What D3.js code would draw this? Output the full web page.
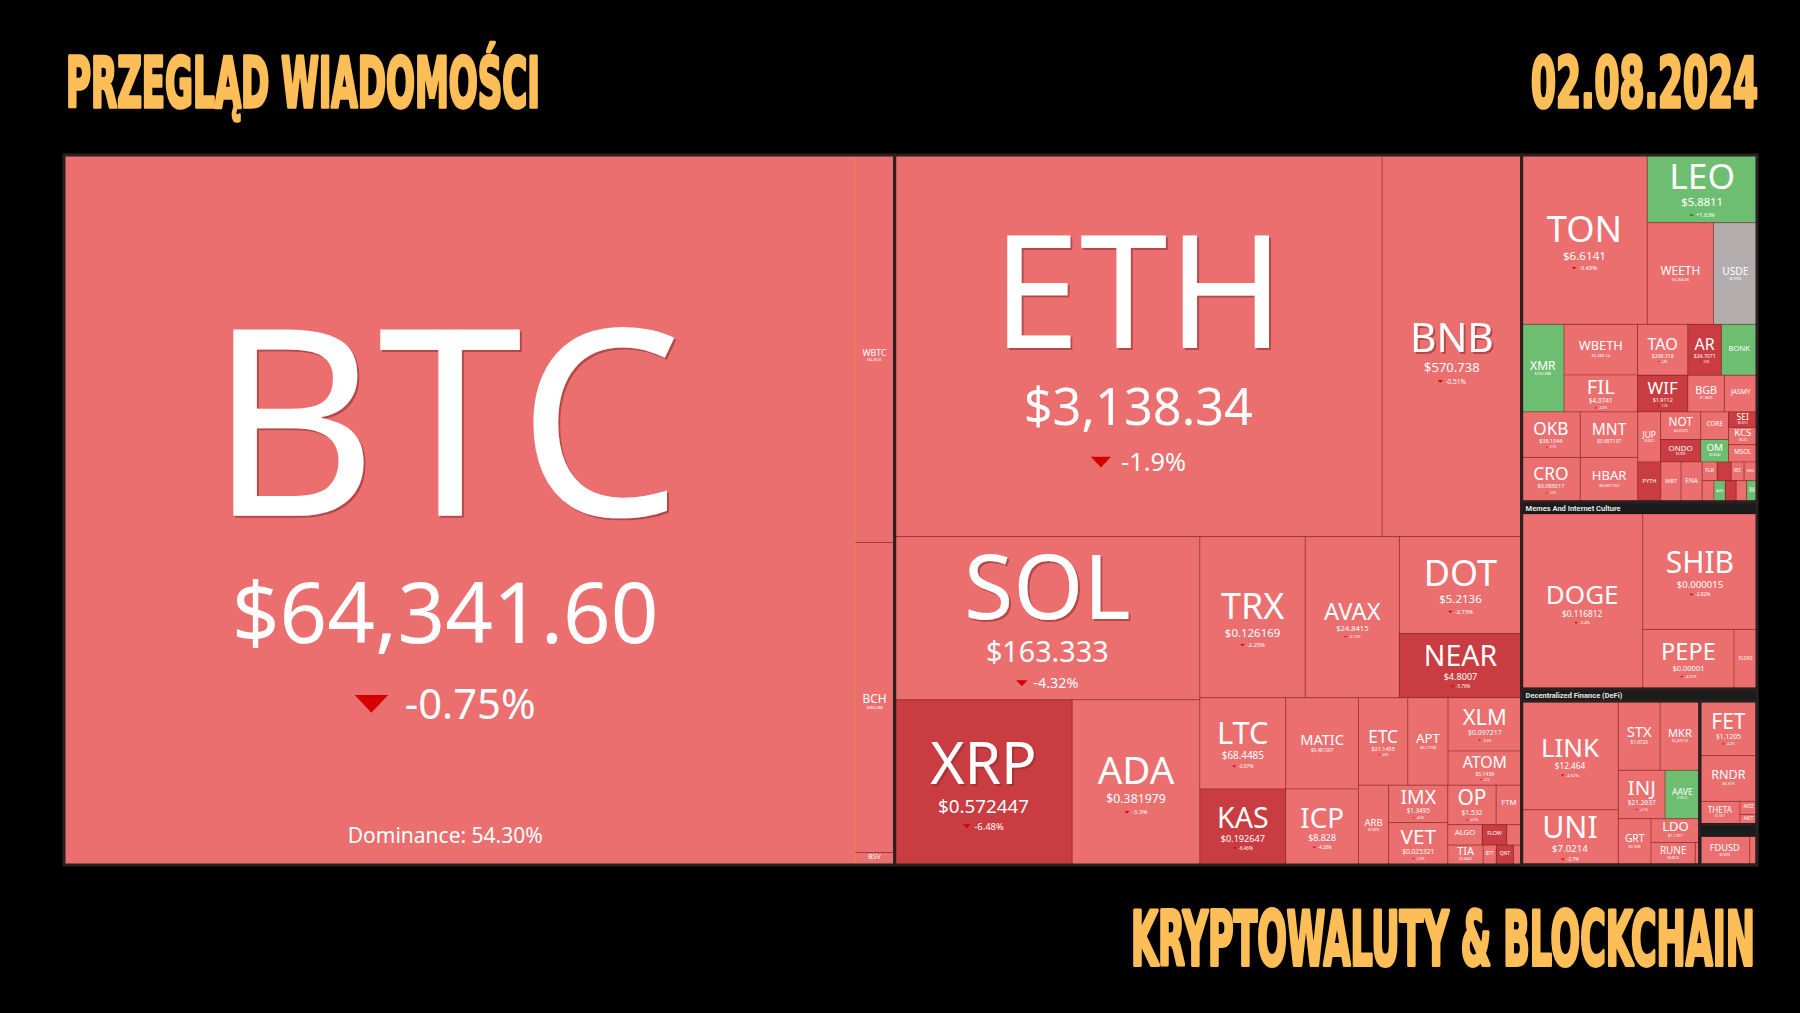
<!DOCTYPE html>
<html>
<head>
<meta charset="utf-8">
<script src="https://cdn.jsdelivr.net/npm/d3@7"></script>
<style>
  body { margin: 0; background: #000; }
  svg { display: block; }
</style>
</head>
<body>
<svg id="chart" width="1800" height="1013"></svg>
<script>
// Heatmap values (weights = tile area, relative)
const symbols = [
  "BTC","WBTC","BCH","BSV",
  "ETH","BNB","SOL","XRP","ADA","TRX","AVAX","DOT","NEAR","LTC","MATIC","KAS","ICP",
  "ETC","APT","XLM","ATOM","ARB","IMX","VET","OP","FTM","ALGO","FLOW","EGLD","TIA","BTT","QNT","SAND",
  "TON","LEO","WEETH","USDE","XMR","WBETH","FIL","TAO","AR","BONK","WIF","BGB","JASMY",
  "OKB","MNT","CRO","HBAR","JUP","NOT","ONDO","CORE","OM","SEI","KCS","MSOL","PYTH","WBT","ENA",
  "FLR","BEAM","XEC","NEO","GALA","AXS","STRK","EOS","W",
  "DOGE","SHIB","PEPE","FLOKI",
  "LINK","UNI","STX","MKR","INJ","AAVE","GRT","LDO","RUNE","CRV",
  "FET","RNDR","THETA","AIOZ","AKT",
  "FDUSD","TUSD"
];
const prices = [
  "$64,341.60","$64,260.30","$360.288","$45.12",
  "$3,138.34","$570.738","$163.333","$0.572447","$0.381979","$0.126169","$24.8415","$5.2136","$4.8007","$68.4485","$0.481097","$0.192647","$8.828",
  "$21.1455","$6.7198","$0.097217","$5.1439","$0.5876","$1.3495","$0.025321","$1.532","$0.4118","$0.1356","$0.5923","$31.52","$5.0442","$0.0000009","$63.88","$0.2741",
  "$6.6141","$5.8811","$3,268.06","$0.9996","$163.088","$3,280.14","$4.0741","$299.318","$24.7071","$0.0000214","$1.9112","$1.0826","$0.02297",
  "$38.1046","$0.687137","$0.085017","$0.061192","$0.8412","$0.0129","$0.7895","$1.2066","$0.9542","$0.3312","$9.23","$191.45","$0.3014","$16.93","$0.3551",
  "$0.0166","$0.0158","$0.0000253","$9.87","$0.0213","$5.12","$0.4376","$0.5012","$0.2687",
  "$0.116812","$0.000015","$0.00001","$0.0001478",
  "$12.464","$7.0214","$1.6720","$2,470.10","$21.2637","$103.21","$0.1636","$1.1251","$3.6622","$0.2687",
  "$1.1205","$6.319","$1.1017","$0.5123","$2.7512",
  "$0.9993","$0.9981"
];
const changes = [
  -0.75,-0.8,-2.55,-3.1,
  -1.9,-0.51,-4.32,-6.48,-3.3,-2.25,-3.13,-2.73,-5.76,-2.97,-3.63,-6.46,-4.28,
  -4.6,-3.8,-3.3,-4.1,-4.2,-4.5,-3.9,-4.9,-4.6,-3.7,-6.1,-3.2,-4.4,-3.0,-5.8,-4.0,
  -3.43,1.63,-1.86,0.01,1.2,-1.88,-4.3,-4.8,-6.9,2.1,-7.2,-2.4,-4.5,
  -3.7,-4.6,-3.5,-3.2,-4.4,-4.7,-7.4,-3.9,3.6,-6.4,-2.1,-4.0,-6.3,-3.4,-4.1,
  -3.9,-6.8,-4.2,-3.8,-4.5,1.2,-6.0,-3.6,0.9,
  -3.4,-2.92,-4.07,-4.5,
  -4.52,-3.7,-4.0,-3.4,-4.1,1.5,-3.8,-4.8,-4.5,-3.5,
  -4.2,-4.8,-3.9,-4.1,-3.8,
  -0.3,-0.4
];
const weights = [
  5587,155,124,5,
  1852,530,496,292,210,169,151,118,78,78,66,65,55,
  43,35,39,25,24,22,25,19,10,7,5,3,7,2.6,3.4,1.6,
  212,74,67,44,37,37,27,25.5,17,18,18.4,13.3,11.9,
  26.6,26.1,26,25.5,11.3,11.1,9,7.6,6.2,4.4,4.9,4.9,9.2,8,8.4,
  2.8,2.6,2.4,2.4,2.5,2.4,2.3,2.2,2.2,
  211,131,54,13.6,
  104.5,53,28.7,27.3,22.5,16.7,15,11.5,9.9,1,
  31,26,9.2,2.2,1.7,
  14,2
];
const dominance = "Dominance: 54.30%";

// how sectors nest and split (h = side by side, v = stacked)
function G(dir, opts, ...kids) {
  return Object.assign({dir, children: kids.map(k => typeof k === "string" ? {sym: k} : k)}, opts);
}
const H = (...k) => G("h", {}, ...k);
const V = (...k) => G("v", {}, ...k);

const tree = H(
  G("h", {border: true}, "BTC", G("v", {accent: true}, "WBTC", "BCH", "BSV")),
  G("v", {border: true},
    H("ETH", "BNB"),
    H(
      V("SOL", H("XRP", "ADA")),
      V(
        H("TRX", "AVAX", V("DOT", "NEAR")),
        H(
          V(H("LTC", "MATIC"), H("KAS", "ICP")),
          V(
            H("ETC", "APT", V("XLM", "ATOM")),
            H("ARB", V("IMX", "VET"),
              V(H("OP", "FTM"), H("ALGO", "FLOW", "EGLD"), H("TIA", "BTT", "QNT", "SAND")))
          )
        )
      )
    )
  ),
  V(
    G("v", {border: true},
      H("TON", V("LEO", H("WEETH", "USDE"))),
      H("XMR", V("WBETH", "FIL"), V(H("TAO", "AR", "BONK"), H("WIF", "BGB", "JASMY"))),
      H(V(H("OKB", "MNT"), H("CRO", "HBAR")),
        V(H("JUP", V("NOT", "ONDO"), V("CORE", "OM"), V("SEI", "KCS", "MSOL")),
          H("PYTH", "WBT", "ENA", V(H("FLR", "BEAM", "XEC", "NEO"), H("GALA", "AXS", "STRK", "EOS", "W")))))
    ),
    G("h", {border: true, title: "Memes And Internet Culture", extra: 29},
      "DOGE", V("SHIB", H("PEPE", "FLOKI"))),
    G("h", {border: true, title: "Decentralized Finance (DeFi)", extra: 29},
      G("h", {border: true},
        V("LINK", "UNI"),
        V(H("STX", "MKR"), H("INJ", "AAVE"), H("GRT", V("LDO", H("RUNE", "CRV"))))),
      V(G("v", {border: true}, "FET", "RNDR", H("THETA", V("AIOZ", "AKT"))),
        G("h", {border: true, title: "", extra: 7}, "FDUSD", "TUSD"))
    )
  )
);

const svg = d3.select("#chart");
const idx = new Map(symbols.map((s, i) => [s, i]));

const color = d3.scaleThreshold()
  .domain([-5, -0.2, 0.2])
  .range(["#c93c41", "#eb6f6f", "#b3adad", "#6ebe72"]);

const origin = [64, 155];
// header rows take area: the group's own "extra" weight
const root = d3.hierarchy(tree)
  .sum(d => d.sym ? weights[idx.get(d.sym)] : (d.extra || 0));

function tile(node, x0, y0, x1, y1) {
  const v = node.value;
  node.value = d3.sum(node.children, c => c.value);
  (node.data.dir === "v" ? d3.treemapSlice : d3.treemapDice)(node, x0, y0, x1, y1);
  node.value = v;
}

d3.treemap()
  .size([1693, 710])
  .tile(tile)
  .paddingTop(d => d.data.title !== undefined ? 12 : 0)(root);

// text measuring
const ctx = document.createElement("canvas").getContext("2d");
function em(text) {
  ctx.font = "400 100px 'Noto Sans'";
  return ctx.measureText(text).width / 100;
}

const defs = svg.append("defs");
defs.append("filter").attr("id", "ts")
  .attr("x", "-10%").attr("y", "-10%").attr("width", "130%").attr("height", "130%")
  .append("feDropShadow")
  .attr("dx", 2).attr("dy", 2).attr("stdDeviation", 0.6)
  .attr("flood-color", "#8a2a2a").attr("flood-opacity", 0.55);

const map = svg.append("g").attr("transform", `translate(${origin[0]},${origin[1]})`);

const leaves = map.selectAll("g.leaf")
  .data(root.leaves())
  .join("g")
  .attr("class", "leaf");

leaves.append("rect")
  .attr("x", d => d.x0)
  .attr("y", d => d.y0)
  .attr("width", d => d.x1 - d.x0)
  .attr("height", d => d.y1 - d.y0)
  .attr("fill", d => color(changes[idx.get(d.data.sym)]))
  .attr("stroke", "rgba(130,30,30,0.35)")
  .attr("stroke-width", 1);

const CAP = 0.714;
leaves.each(function(d) {
  const i = idx.get(d.data.sym);
  const sym = symbols[i], price = prices[i], chg = changes[i];
  const w = d.x1 - d.x0, h = d.y1 - d.y0;
  // the big BTC block sits a little left of centre in the original
  const cx = (d.x0 + d.x1) / 2 - (sym === "BTC" ? 14 : 0);
  const f1 = Math.min(0.6 * w / em(sym), 0.55 * h);
  if (f1 < 3.5) return;
  const f2 = Math.min(0.32 * f1, 0.66 * w / em(price));
  const f3 = 0.16 * f1;
  const g1 = 0.26 * f1, g2 = 0.55 * f2;
  const block = CAP * f1 + g1 + CAP * f2 + g2 + CAP * f3;
  const top = (d.y0 + d.y1) / 2 + 0.02 * h - block / 2;
  const ySym = top + CAP * f1;
  const yPrice = ySym + g1 + CAP * f2;
  const yChg = yPrice + g2 + CAP * f3;
  const g = d3.select(this);

  g.append("text")
    .attr("x", cx).attr("y", ySym)
    .attr("text-anchor", "middle")
    .attr("font-family", "'Noto Sans', sans-serif")
    .attr("font-size", f1)
    .attr("fill", "#fff")
    .attr("filter", f1 > 40 ? "url(#ts)" : null)
    .text(sym);

  if (f2 >= 2.5) {
    g.append("text")
      .attr("x", cx).attr("y", yPrice)
      .attr("text-anchor", "middle")
      .attr("font-family", "'Noto Sans', sans-serif")
      .attr("font-size", f2)
      .attr("fill", "#fff")
      .text(price);
  }

  if (f3 >= 2.5) {
    const label = (chg > 0 ? "+" : "") + chg + "%";
    const tw = 0.8 * f3, th = 0.42 * f3, gap = 0.4 * f3;
    const total = tw + gap + em(label) * f3;
    const sx = cx - total / 2;
    const yc = yChg - 0.36 * f3;
    const tri = chg < 0
      ? [[sx, yc - th / 2], [sx + tw, yc - th / 2], [sx + tw / 2, yc + th / 2]]
      : [[sx, yc + th / 2], [sx + tw, yc + th / 2], [sx + tw / 2, yc - th / 2]];
    g.append("path")
      .attr("d", d3.line()(tri) + "Z")
      .attr("fill", chg < 0 ? "#d40000" : "#0b8a1f");
    g.append("text")
      .attr("x", sx + tw + gap).attr("y", yChg)
      .attr("font-family", "'Noto Sans', sans-serif")
      .attr("font-size", f3)
      .attr("fill", "#fff")
      .text(label);
  }

  if (sym === "BTC") {
    g.append("text")
      .attr("x", cx).attr("y", d.y1 - 22)
      .attr("text-anchor", "middle")
      .attr("font-family", "'Noto Sans', sans-serif")
      .attr("font-size", 21)
      .attr("fill", "#fff")
      .text(dominance);
  }
});

// sector outlines and headers
const groups = root.descendants().filter(d => d.children);

map.selectAll("line.accent")
  .data(groups.filter(d => d.data.accent))
  .join("line")
  .attr("x1", d => d.x0).attr("x2", d => d.x0)
  .attr("y1", d => d.y0).attr("y2", d => d.y1)
  .attr("stroke", "#e8874a")
  .attr("stroke-width", 1.5);

const headed = groups.filter(d => d.data.title !== undefined);
map.selectAll("rect.header")
  .data(headed)
  .join("rect")
  .attr("x", d => d.x0).attr("y", d => d.y0)
  .attr("width", d => d.x1 - d.x0).attr("height", 12)
  .attr("fill", "#1b1b1b");

map.selectAll("text.header")
  .data(headed)
  .join("text")
  .attr("x", d => d.x0 + 4).attr("y", d => d.y0 + 9)
  .attr("font-family", "Roboto, sans-serif")
  .attr("font-weight", 700)
  .attr("font-size", 7.5)
  .attr("fill", "#e6e6e6")
  .text(d => d.data.title);

map.selectAll("rect.border")
  .data(groups.filter(d => d.data.border))
  .join("rect")
  .attr("x", d => d.x0).attr("y", d => d.y0)
  .attr("width", d => d.x1 - d.x0).attr("height", d => d.y1 - d.y0)
  .attr("fill", "none")
  .attr("stroke", "#2a2020")
  .attr("stroke-width", 3);

// page titles, squeezed to the condensed look of the original
const titleFont = "'DejaVu Sans Condensed', 'DejaVu Sans', sans-serif";
function title(text, x, y, len, size) {
  const t = svg.append("text")
    .attr("font-family", titleFont)
    .attr("font-weight", 700)
    .attr("font-size", size)
    .attr("fill", "#fdbe58")
    .attr("stroke", "#fdbe58")
    .attr("stroke-width", 3)
    .attr("stroke-linejoin", "round")
    .attr("vector-effect", "non-scaling-stroke")
    .text(text);
  const natural = t.node().getComputedTextLength();
  t.attr("transform", `translate(${x},${y}) scale(${len / natural},1)`);
}
title("PRZEGLĄD WIADOMOŚCI", 66, 107, 474, 70);
title("02.08.2024", 1531, 107, 227, 70);
title("KRYPTOWALUTY & BLOCKCHAIN", 1131, 965, 624, 74);
</script>
</body>
</html>
